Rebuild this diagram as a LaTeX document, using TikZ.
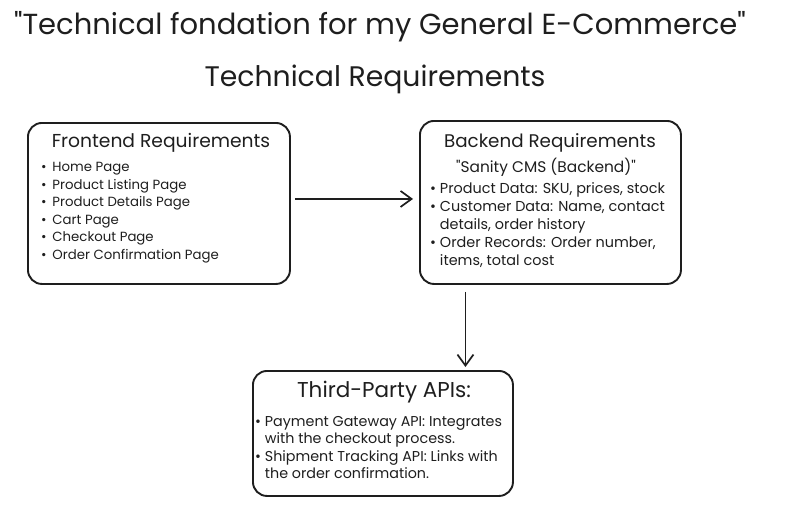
\documentclass[tikz,border=0pt]{standalone}
\usepackage{fontspec}
\setmainfont{Poppins}[Ligatures=TeXOff]
\usetikzlibrary{arrows.meta}
\definecolor{ink}{HTML}{1E1E1E}
\begin{document}
\begin{tikzpicture}[x=1pt, y=-1pt, every node/.style={text=ink},
	box/.style={draw=ink, line width=1.9pt, rounded corners=14pt, anchor=north west},
	head/.style={font=\fontsize{18.7}{22}\selectfont},
	items/.style={anchor=north west, align=left, inner sep=0pt},
	link/.style={draw=ink, line width=1.9pt, -{Straight Barb[length=11pt, width=16pt, line width=1.7pt]}}]
	\useasboundingbox (0,0) rectangle (800,531);

	% titles
	\node (Title) at (380,27) {\fontsize{29}{34}\selectfont "Technical fondation for my General E-Commerce"};
	\node (Sub) at (375,79) {\fontsize{28.3}{32}\selectfont Technical Requirements};

	% frontend
	\node (Front) [box, minimum width=262pt, minimum height=161pt] at (27,122) {};
	\node (FrontHead) [head] at (161,143) {Frontend Requirements};
	\node (FrontList) [items, font=\fontsize{13.3}{17.6}\selectfont] at (41,162) {%
		•\, Home Page\\
		•\, Product Listing Page\\
		•\, Product Details Page\\
		•\, Cart Page\\
		•\, Checkout Page\\
		•\, Order Confirmation Page};

	% backend
	\node (Back) [box, minimum width=261pt, minimum height=163pt] at (419,120) {};
	\node (BackHead) [head, font=\fontsize{18.3}{22}\selectfont] at (550,143) {Backend Requirements};
	\node (BackSub) [font=\fontsize{15.4}{19}\selectfont] at (546,167) {"Sanity CMS (Backend)"};
	\node (BackList) [items, font=\fontsize{14.4}{18}\selectfont] at (430,182) {%
		• Product Data: SKU, prices, stock\\
		• Customer Data: Name, contact\\
		\phantom{• }details, order history\\
		• Order Records: Order number,\\
		\phantom{• }items, total cost};

	% third party
	\node (Api) [box, minimum width=260pt, minimum height=125pt] at (252,370) {};
	\node (ApiHead) [head, font=\fontsize{21.5}{25}\selectfont] at (384,392) {Third-Party APIs:};
	\node (ApiList) [items, font=\fontsize{14.3}{17.5}\selectfont] at (255,416) {%
		• Payment Gateway API: Integrates\\
		\phantom{• }with the checkout process.\\
		• Shipment Tracking API: Links with\\
		\phantom{• }the order confirmation.};

	% arrows
	\draw [link] ([xshift=4pt, yshift=4.5pt]Front.east) -- ([xshift=-6pt, yshift=3.5pt]Back.west);
	\draw [link] ([xshift=-85pt, yshift=-7pt]Back.south) coordinate (drop) -- ([yshift=3pt]drop |- Api.north);
\end{tikzpicture}
\end{document}
